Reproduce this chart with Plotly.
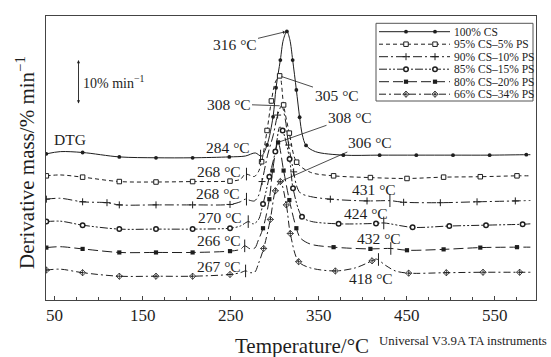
import plotly.graph_objects as go

# ---------------- data: temperature (°C) and DTG (% min^-1, curves offset) ----------------
cs100_T = [40.6, 56.5, 81.8, 123.5, 165.2, 206.8, 248.5, 266.7, 278.0, 284.9,
           291.4, 298.2, 301.6, 306.5, 309.9, 313.9, 317.3, 320.5, 324.7, 328.4,
           331.5, 335.7, 346.3, 378.1, 419.3, 461.0, 502.7, 544.3, 586.0, 590.6]
cs100_y = [33.1, 33.6, 33.4, 32.4, 32.2, 32.2, 32.4, 32.6, 33.3, 32.6,
           35.1, 41.5, 48.1, 54.4, 59.0, 60.9, 59.0, 54.4, 47.6, 41.4,
           37.4, 35.0, 33.6, 32.8, 32.8, 32.8, 32.8, 32.8, 32.9, 32.9]
cs100_m = [1, 0, 1, 1, 1, 1, 1, 0, 0, 0, 1, 1, 1, 1, 0, 1, 0, 1, 1, 1,
           0, 1, 0, 1, 1, 1, 1, 1, 1, 0]

cs95_T = [40.6, 56.5, 81.8, 123.5, 165.2, 206.8, 249.3, 261.0, 266.7, 272.4,
          277.0, 281.5, 285.2, 291.4, 296.3, 300.9, 305.7, 310.2, 316.7, 325.0,
          340.6, 367.0, 408.8, 450.4, 492.0, 533.7, 575.4, 590.6]
cs95_y = [28.1, 28.3, 27.8, 26.8, 26.7, 26.8, 26.9, 27.3, 28.5, 28.2,
          27.95, 29.0, 31.3, 38.4, 45.1, 49.4, 50.8, 44.2, 37.8, 31.2,
          28.9, 28.1, 27.7, 27.5, 27.8, 27.9, 28.1, 28.1]
cs95_m = [1, 0, 1, 1, 1, 1, 1, 0, 0, 0, 0, 0, 1, 1, 1, 0, 1, 1, 1, 1,
          0, 1, 1, 1, 1, 1, 1, 0]

cs90_T = [40.6, 56.5, 81.8, 109.5, 123.5, 165.2, 206.8, 249.3, 261.0, 266.7,
          272.4, 277.0, 281.5, 285.7, 292.0, 298.5, 303.4, 308.0, 312.2, 315.9,
          321.6, 325.0, 329.2, 340.6, 363.3, 405.0, 431.5, 446.6, 488.3, 530.0,
          573.5, 590.6]
cs90_y = [22.8, 23.0, 22.2, 22.0, 21.5, 21.5, 21.5, 21.6, 22.2, 22.8,
          22.5, 22.4, 23.5, 26.8, 32.8, 37.4, 41.9, 44.0, 40.8, 35.1,
          29.0, 25.8, 24.2, 23.4, 22.8, 22.4, 22.45, 22.1, 22.0, 22.2,
          22.4, 22.5]
cs90_m = [1, 0, 1, 1, 1, 1, 1, 1, 0, 0, 0, 0, 0, 1, 0, 0, 1, 0, 0, 1,
          1, 0, 0, 0, 1, 1, 0, 1, 1, 1, 1, 0]

cs85_T = [40.6, 56.5, 81.8, 123.5, 165.2, 206.8, 249.3, 261.0, 270.1, 275.8,
          281.5, 286.8, 294.0, 300.8, 305.9, 309.1, 317.0, 320.9, 331.1, 340.6,
          372.7, 415.2, 424.0, 456.8, 498.5, 540.2, 581.8, 590.6]
cs85_y = [17.7, 17.8, 16.9, 16.0, 16.0, 16.0, 16.2, 16.7, 17.7, 17.2,
          18.1, 21.7, 27.9, 33.6, 39.2, 38.4, 31.9, 25.3, 18.8, 17.8,
          17.2, 17.3, 17.4, 16.4, 16.7, 16.9, 17.1, 17.2]
cs85_m = [1, 0, 1, 1, 1, 1, 1, 0, 0, 0, 0, 1, 1, 1, 0, 1, 1, 1, 1, 0,
          1, 1, 0, 1, 1, 1, 1, 0]

cs80_T = [40.6, 56.5, 81.8, 123.5, 165.2, 206.8, 249.3, 261.0, 266.0, 272.4,
          277.5, 281.5, 286.8, 294.0, 297.7, 303.9, 310.2, 316.7, 324.7, 329.2,
          340.6, 367.0, 408.8, 432.0, 450.4, 492.0, 533.7, 575.4, 590.6]
cs80_y = [11.8, 12.0, 11.5, 10.7, 10.7, 10.7, 11.0, 11.4, 12.2, 11.5,
          11.7, 13.5, 16.2, 22.8, 29.3, 35.7, 29.3, 22.6, 16.2, 14.0,
          12.6, 11.9, 11.5, 11.6, 11.2, 11.4, 11.8, 11.9, 11.9]
cs80_m = [1, 0, 1, 1, 1, 1, 1, 0, 0, 0, 0, 0, 1, 1, 1, 1, 1, 1, 1, 0,
          0, 1, 1, 0, 1, 1, 1, 1, 0]

cs66_T = [40.6, 56.5, 81.8, 123.5, 165.2, 206.8, 249.3, 261.0, 267.0, 272.4,
          277.5, 281.5, 287.5, 295.1, 300.8, 306.5, 313.3, 317.8, 327.3, 340.6,
          369.0, 391.7, 410.7, 415.6, 425.8, 437.2, 452.3, 495.1, 536.8, 578.4,
          590.6]
cs66_y = [6.7, 6.9, 6.1, 5.3, 5.3, 5.3, 5.7, 6.1, 6.5, 6.1,
          6.25, 8.1, 11.6, 18.2, 24.7, 26.8, 21.5, 15.0, 8.6, 7.2,
          6.5, 7.2, 8.8, 9.2, 7.8, 6.5, 6.0, 6.1, 6.2, 6.2,
          6.2]
cs66_m = [1, 0, 1, 1, 1, 1, 1, 0, 0, 0, 0, 0, 1, 1, 1, 1, 1, 1, 1, 0,
          1, 0, 1, 0, 0, 0, 1, 1, 1, 1, 0]

series_names = ["100% CS", "95% CS–5% PS", "90% CS–10% PS",
                "85% CS–15% PS", "80% CS–20% PS", "66% CS–34% PS"]

# instrument marks (temperature, DTG) placed on the curves
mark_T = [284, 268, 268, 270, 266, 267, 431, 424, 432, 418]
mark_y = [32.6, 28.5, 22.8, 17.7, 12.2, 6.5, 22.45, 17.4, 11.6, 9.1]

x_ticks = [50, 150, 250, 350, 450, 550]

# ---------------- styling ----------------
INK = "#1e1e1e"
FONT = "Liberation Serif"
W, H = 551, 357
PL, PR, PT, PB = 46, 536, 16, 300
XR = [40.2, 597.0]
YR = [-0.1, 64.4]


def fx(px):
    return (px - PL) / (PR - PL)


def fy(py):
    return (PB - py) / (PB - PT)


def dx(px):
    return XR[0] + fx(px) * (XR[1] - XR[0])


def dy(py):
    return YR[0] + fy(py) * (YR[1] - YR[0])


dashes = ["solid", "4px,3px", "9px,3px,2px,3px", "8px,2px,2px,2px,2px,2px",
          "10px,4px", "7px,3px,2px,3px"]
markers = [
    dict(symbol="circle", size=3.8, color=INK, line=dict(width=0)),
    dict(symbol="square", size=4.5, color="white", line=dict(width=1, color=INK)),
    dict(symbol="cross-thin", size=5, color=INK, line=dict(width=1, color=INK)),
    dict(symbol="circle", size=4.5, color="white", line=dict(width=1.5, color=INK)),
    dict(symbol="square", size=4.2, color=INK, line=dict(width=0)),
    dict(symbol="diamond-cross-open", size=4.8, color=INK, line=dict(width=0.8, color=INK)),
]

data = [(cs100_T, cs100_y, cs100_m), (cs95_T, cs95_y, cs95_m),
        (cs90_T, cs90_y, cs90_m), (cs85_T, cs85_y, cs85_m),
        (cs80_T, cs80_y, cs80_m), (cs66_T, cs66_y, cs66_m)]

fig = go.Figure()
for i, (T, y, m) in enumerate(data):
    fig.add_trace(go.Scatter(x=T, y=y, mode="lines", line_shape="spline",
                             line=dict(color=INK, width=1, dash=dashes[i], smoothing=0.9),
                             showlegend=False, hoverinfo="skip"))
for i, (T, y, m) in enumerate(data):
    fig.add_trace(go.Scatter(x=[t for t, k in zip(T, m) if k],
                             y=[v for v, k in zip(y, m) if k],
                             mode="markers", marker=markers[i],
                             showlegend=False, hoverinfo="skip"))
# instrument tick marks
fig.add_trace(go.Scatter(x=mark_T, y=mark_y, mode="markers",
                         marker=dict(symbol="line-ns", size=9,
                                     line=dict(width=1, color=INK)),
                         showlegend=False, hoverinfo="skip"))

# ---------------- custom legend (on a hidden overlay axis 0..1) ----------------
rows = [31.7, 44.2, 56.7, 69.2, 81.7, 94.2]
for i, py in enumerate(rows):
    yy = fy(py)
    fig.add_trace(go.Scatter(x=[fx(379), fx(450)], y=[yy, yy], mode="lines",
                             line=dict(color=INK, width=1, dash=dashes[i]),
                             xaxis="x2", yaxis="y2", showlegend=False, hoverinfo="skip"))
    fig.add_trace(go.Scatter(x=[fx(406), fx(435)], y=[yy, yy], mode="markers",
                             marker=markers[i], xaxis="x2", yaxis="y2",
                             showlegend=False, hoverinfo="skip"))


def note(text, px, py, size, xanchor="center", **kw):
    return dict(x=fx(px), y=fy(py), xref="paper", yref="paper", text=text,
                showarrow=False, xanchor=xanchor, yanchor="middle",
                font=dict(family=FONT, size=size, color=INK), **kw)


annotations = []
for i, py in enumerate(rows):
    annotations.append(note(series_names[i], 452, py, 11.5, xanchor="left"))

shapes = [dict(type="rect", xref="paper", yref="paper", x0=fx(376), x1=fx(533),
               y0=fy(101), y1=fy(23.3), line=dict(color="#555", width=1))]

# ---------------- text labels ----------------
LAB = 15.5
plain_labels = [("DTG", 69.5, 139), ("284 °C", 228, 147), ("268 °C", 218.5, 172),
                ("268 °C", 218, 193.5), ("270 °C", 219.5, 217.7), ("266 °C", 218.5, 240),
                ("267 °C", 218.5, 266), ("431 °C", 374, 189), ("424 °C", 365.5, 213),
                ("432 °C", 378.5, 238), ("418 °C", 370.5, 278)]
for txt, px, py in plain_labels:
    annotations.append(note(txt, px, py, LAB))

peak_labels = [("316 °C", 234.5, 44, 0, 1), ("308 °C", 228.5, 104, 2, 0),
               ("305 °C", 336.5, 95, 1, 0), ("308 °C", 350, 117, 4, 0),
               ("306 °C", 370, 142, 5, 0)]
for txt, px, py, si, head in peak_labels:
    T, y, _ = data[si]
    k = y.index(max(y))
    annotations.append(dict(x=T[k], y=y[k], xref="x", yref="y", ax=dx(px), ay=dy(py),
                            axref="x", ayref="y", text=txt, showarrow=True,
                            xanchor="center", yanchor="middle",
                            arrowhead=1 if head else 0, arrowsize=0.8, arrowwidth=0.8,
                            arrowcolor=INK, standoff=2,
                            font=dict(family=FONT, size=LAB, color=INK)))

# scale bar 10 % min^-1
annotations.append(dict(x=fx(78.5), y=fy(60), xref="paper", yref="paper", ax=0, ay=45,
                        text="", showarrow=True, arrowhead=2, arrowside="end+start",
                        arrowsize=0.7, arrowwidth=0.9, arrowcolor=INK))
annotations.append(note("10% min<sup>−1</sup>", 81, 82, 14, xanchor="left"))

# axis titles and footer
annotations.append(note("Derivative mass/% min<sup>−1</sup>", 25, 163, 21, textangle=-90))
annotations.append(note("Temperature/°C", 302, 346, 21))
annotations.append(note("Universal V3.9A TA instruments", 377, 341, 12.8, xanchor="left"))

fig.update_layout(
    width=W, height=H, margin=dict(l=PL, r=W - PR, t=PT, b=H - PB),
    paper_bgcolor="white", plot_bgcolor="white",
    font=dict(family=FONT, color=INK),
    xaxis=dict(range=XR, tickvals=x_ticks, ticks="inside", ticklen=4, tickwidth=1,
               tickcolor="#444", showline=True, linecolor="#444", linewidth=1,
               mirror=True, showgrid=False, zeroline=False,
               tickfont=dict(family=FONT, size=17, color=INK),
               minor=dict(tick0=50, dtick=25, ticks="inside", ticklen=3,
                          tickcolor="#444", showgrid=False)),
    yaxis=dict(range=YR, showticklabels=False, ticks="", showline=True,
               linecolor="#444", linewidth=1, mirror=True, showgrid=False,
               zeroline=False),
    xaxis2=dict(overlaying="x", range=[0, 1], visible=False),
    yaxis2=dict(overlaying="y", range=[0, 1], visible=False),
    annotations=annotations, shapes=shapes, showlegend=False,
)

fig.write_html("out.html")
